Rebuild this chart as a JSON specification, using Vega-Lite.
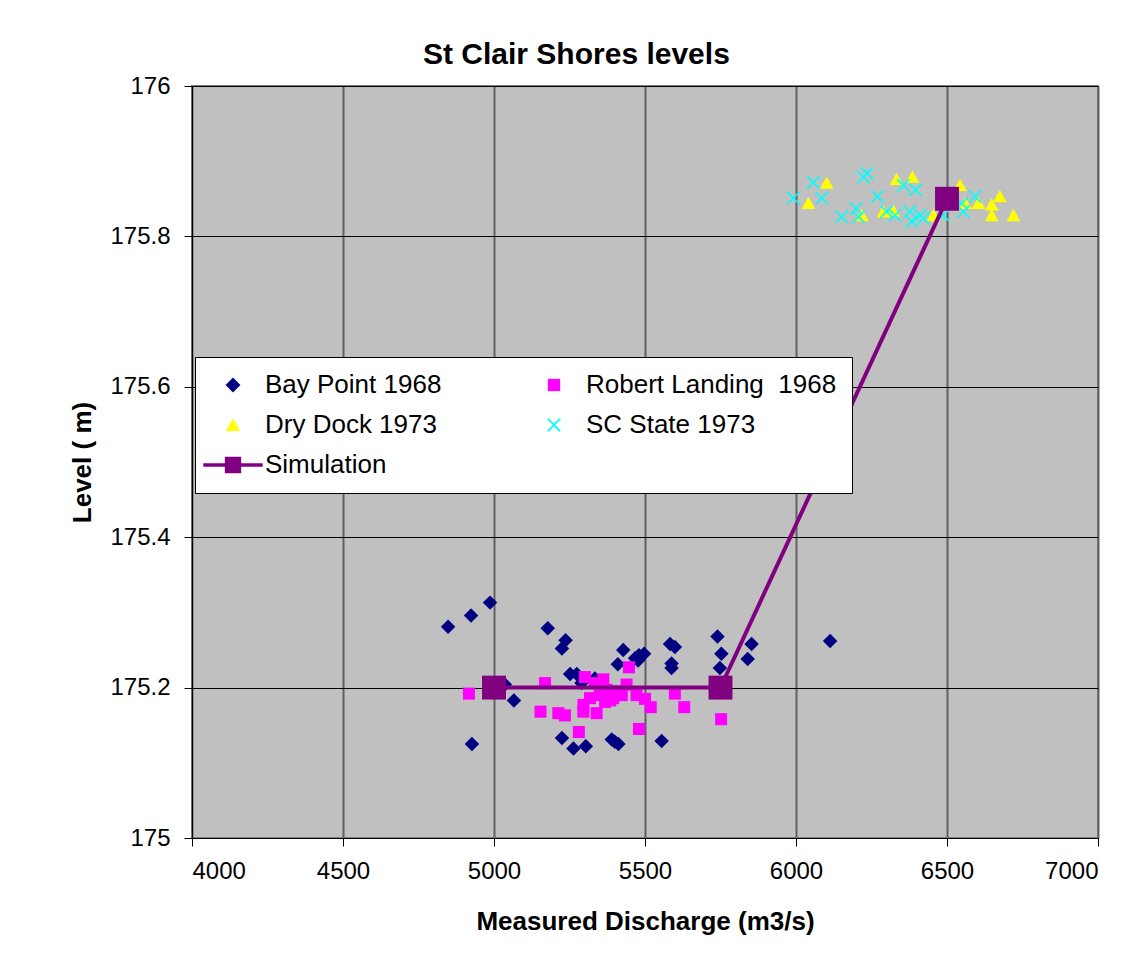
{
  "$schema": "https://vega.github.io/schema/vega-lite/v6.json",
  "width": 906,
  "height": 752,
  "autosize": {"type": "none"},
  "padding": {"left": 192, "top": 86, "right": 38, "bottom": 120},
  "background": "white",
  "title": {
    "text": "St Clair Shores levels",
    "anchor": "start",
    "dx": 354,
    "offset": 4,
    "font": "Liberation Sans",
    "fontSize": 30,
    "fontWeight": "bold",
    "color": "black"
  },
  "config": {
    "view": {"fill": "#C0C0C0", "stroke": "#808080", "strokeWidth": 2},
    "axis": {
      "labelFont": "Liberation Sans",
      "labelFontSize": 24,
      "labelColor": "black",
      "titleFont": "Liberation Sans",
      "titleFontSize": 26,
      "titleFontWeight": "bold",
      "titleColor": "black",
      "tickColor": "black",
      "tickSize": 8,
      "domainColor": "black"
    },
    "legend": {
      "labelFont": "Liberation Sans",
      "labelFontSize": 26,
      "labelColor": "black"
    }
  },
  "datasets": {
    "obs": [
      {"series": "Bay Point 1968", "discharge": 4848, "level": 175.281},
      {"series": "Bay Point 1968", "discharge": 4924, "level": 175.296},
      {"series": "Bay Point 1968", "discharge": 4987, "level": 175.313},
      {"series": "Bay Point 1968", "discharge": 5036, "level": 175.204},
      {"series": "Bay Point 1968", "discharge": 5066, "level": 175.183},
      {"series": "Bay Point 1968", "discharge": 4927, "level": 175.125},
      {"series": "Bay Point 1968", "discharge": 5178, "level": 175.279},
      {"series": "Bay Point 1968", "discharge": 5237, "level": 175.263},
      {"series": "Bay Point 1968", "discharge": 5225, "level": 175.252},
      {"series": "Bay Point 1968", "discharge": 5252, "level": 175.218},
      {"series": "Bay Point 1968", "discharge": 5274, "level": 175.218},
      {"series": "Bay Point 1968", "discharge": 5290, "level": 175.206},
      {"series": "Bay Point 1968", "discharge": 5334, "level": 175.212},
      {"series": "Bay Point 1968", "discharge": 5225, "level": 175.133},
      {"series": "Bay Point 1968", "discharge": 5263, "level": 175.119},
      {"series": "Bay Point 1968", "discharge": 5304, "level": 175.122},
      {"series": "Bay Point 1968", "discharge": 5390, "level": 175.131},
      {"series": "Bay Point 1968", "discharge": 5400, "level": 175.128},
      {"series": "Bay Point 1968", "discharge": 5412, "level": 175.125},
      {"series": "Bay Point 1968", "discharge": 5428, "level": 175.250},
      {"series": "Bay Point 1968", "discharge": 5410, "level": 175.231},
      {"series": "Bay Point 1968", "discharge": 5467, "level": 175.239},
      {"series": "Bay Point 1968", "discharge": 5480, "level": 175.243},
      {"series": "Bay Point 1968", "discharge": 5497, "level": 175.245},
      {"series": "Bay Point 1968", "discharge": 5477, "level": 175.236},
      {"series": "Bay Point 1968", "discharge": 5583, "level": 175.258},
      {"series": "Bay Point 1968", "discharge": 5599, "level": 175.254},
      {"series": "Bay Point 1968", "discharge": 5588, "level": 175.232},
      {"series": "Bay Point 1968", "discharge": 5588, "level": 175.226},
      {"series": "Bay Point 1968", "discharge": 5555, "level": 175.129},
      {"series": "Bay Point 1968", "discharge": 5740, "level": 175.268},
      {"series": "Bay Point 1968", "discharge": 5753, "level": 175.245},
      {"series": "Bay Point 1968", "discharge": 5748, "level": 175.226},
      {"series": "Bay Point 1968", "discharge": 5853, "level": 175.258},
      {"series": "Bay Point 1968", "discharge": 5840, "level": 175.238},
      {"series": "Bay Point 1968", "discharge": 6113, "level": 175.262},
      {"series": "Robert Landing\u00a0 1968", "discharge": 4917, "level": 175.192},
      {"series": "Robert Landing\u00a0 1968", "discharge": 5169, "level": 175.206},
      {"series": "Robert Landing\u00a0 1968", "discharge": 5154, "level": 175.168},
      {"series": "Robert Landing\u00a0 1968", "discharge": 5213, "level": 175.166},
      {"series": "Robert Landing\u00a0 1968", "discharge": 5235, "level": 175.163},
      {"series": "Robert Landing\u00a0 1968", "discharge": 5281, "level": 175.141},
      {"series": "Robert Landing\u00a0 1968", "discharge": 5301, "level": 175.214},
      {"series": "Robert Landing\u00a0 1968", "discharge": 5362, "level": 175.211},
      {"series": "Robert Landing\u00a0 1968", "discharge": 5334, "level": 175.206},
      {"series": "Robert Landing\u00a0 1968", "discharge": 5373, "level": 175.197},
      {"series": "Robert Landing\u00a0 1968", "discharge": 5318, "level": 175.186},
      {"series": "Robert Landing\u00a0 1968", "discharge": 5296, "level": 175.177},
      {"series": "Robert Landing\u00a0 1968", "discharge": 5296, "level": 175.168},
      {"series": "Robert Landing\u00a0 1968", "discharge": 5340, "level": 175.166},
      {"series": "Robert Landing\u00a0 1968", "discharge": 5368, "level": 175.181},
      {"series": "Robert Landing\u00a0 1968", "discharge": 5350, "level": 175.190},
      {"series": "Robert Landing\u00a0 1968", "discharge": 5385, "level": 175.183},
      {"series": "Robert Landing\u00a0 1968", "discharge": 5395, "level": 175.186},
      {"series": "Robert Landing\u00a0 1968", "discharge": 5410, "level": 175.195},
      {"series": "Robert Landing\u00a0 1968", "discharge": 5423, "level": 175.190},
      {"series": "Robert Landing\u00a0 1968", "discharge": 5439, "level": 175.204},
      {"series": "Robert Landing\u00a0 1968", "discharge": 5447, "level": 175.227},
      {"series": "Robert Landing\u00a0 1968", "discharge": 5472, "level": 175.190},
      {"series": "Robert Landing\u00a0 1968", "discharge": 5500, "level": 175.185},
      {"series": "Robert Landing\u00a0 1968", "discharge": 5519, "level": 175.174},
      {"series": "Robert Landing\u00a0 1968", "discharge": 5480, "level": 175.145},
      {"series": "Robert Landing\u00a0 1968", "discharge": 5599, "level": 175.192},
      {"series": "Robert Landing\u00a0 1968", "discharge": 5630, "level": 175.174},
      {"series": "Robert Landing\u00a0 1968", "discharge": 5752, "level": 175.158},
      {"series": "Dry Dock 1973", "discharge": 6102, "level": 175.871},
      {"series": "Dry Dock 1973", "discharge": 6041, "level": 175.844},
      {"series": "Dry Dock 1973", "discharge": 6333, "level": 175.876},
      {"series": "Dry Dock 1973", "discharge": 6385, "level": 175.879},
      {"series": "Dry Dock 1973", "discharge": 6218, "level": 175.828},
      {"series": "Dry Dock 1973", "discharge": 6289, "level": 175.833},
      {"series": "Dry Dock 1973", "discharge": 6322, "level": 175.834},
      {"series": "Dry Dock 1973", "discharge": 6455, "level": 175.828},
      {"series": "Dry Dock 1973", "discharge": 6543, "level": 175.868},
      {"series": "Dry Dock 1973", "discharge": 6560, "level": 175.844},
      {"series": "Dry Dock 1973", "discharge": 6604, "level": 175.844},
      {"series": "Dry Dock 1973", "discharge": 6648, "level": 175.842},
      {"series": "Dry Dock 1973", "discharge": 6675, "level": 175.853},
      {"series": "Dry Dock 1973", "discharge": 6648, "level": 175.828},
      {"series": "Dry Dock 1973", "discharge": 6720, "level": 175.828},
      {"series": "SC State 1973", "discharge": 5991, "level": 175.851},
      {"series": "SC State 1973", "discharge": 6057, "level": 175.872},
      {"series": "SC State 1973", "discharge": 6085, "level": 175.851},
      {"series": "SC State 1973", "discharge": 6236, "level": 175.884},
      {"series": "SC State 1973", "discharge": 6223, "level": 175.879},
      {"series": "SC State 1973", "discharge": 6151, "level": 175.826},
      {"series": "SC State 1973", "discharge": 6199, "level": 175.837},
      {"series": "SC State 1973", "discharge": 6207, "level": 175.826},
      {"series": "SC State 1973", "discharge": 6270, "level": 175.853},
      {"series": "SC State 1973", "discharge": 6300, "level": 175.833},
      {"series": "SC State 1973", "discharge": 6328, "level": 175.828},
      {"series": "SC State 1973", "discharge": 6355, "level": 175.868},
      {"series": "SC State 1973", "discharge": 6396, "level": 175.862},
      {"series": "SC State 1973", "discharge": 6377, "level": 175.833},
      {"series": "SC State 1973", "discharge": 6383, "level": 175.820},
      {"series": "SC State 1973", "discharge": 6411, "level": 175.828},
      {"series": "SC State 1973", "discharge": 6422, "level": 175.824},
      {"series": "SC State 1973", "discharge": 6488, "level": 175.828},
      {"series": "SC State 1973", "discharge": 6549, "level": 175.844},
      {"series": "SC State 1973", "discharge": 6554, "level": 175.833},
      {"series": "SC State 1973", "discharge": 6593, "level": 175.853}
    ],
    "sim": [
      {"series": "Simulation", "discharge": 5000, "level": 175.2},
      {"series": "Simulation", "discharge": 5750, "level": 175.2},
      {"series": "Simulation", "discharge": 6500, "level": 175.85}
    ]
  },
  "encoding": {
    "x": {
      "field": "discharge",
      "type": "quantitative",
      "scale": {"domain": [4000, 7000], "nice": false, "zero": false},
      "axis": {
        "title": "Measured Discharge (m3/s)",
        "values": [4000, 4500, 5000, 5500, 6000, 6500, 7000],
        "format": "d",
        "labelPadding": 13,
        "gridColor": "#606060",
        "gridWidth": 2,
        "gridOpacity": 1,
        "titleX": 453,
        "titleY": 91,
        "titleAlign": "center",
        "titleBaseline": "alphabetic"
      }
    },
    "y": {
      "field": "level",
      "type": "quantitative",
      "scale": {"domain": [175, 176], "nice": false, "zero": false},
      "axis": {
        "title": "Level ( m)",
        "values": [175, 175.2, 175.4, 175.6, 175.8, 176],
        "format": "~g",
        "labelPadding": 14,
        "gridColor": "black",
        "gridWidth": 1,
        "gridOpacity": 1,
        "titleX": -110,
        "titleY": 376,
        "titleAngle": -90,
        "titleAlign": "center",
        "titleBaseline": "middle"
      }
    }
  },
  "layer": [
    {
      "data": {"name": "obs"},
      "mark": {"type": "point", "filled": true, "opacity": 1, "size": 210, "strokeWidth": 0},
      "encoding": {
        "color": {
          "field": "series",
          "type": "nominal",
          "scale": {
            "domain": ["Bay Point 1968", "Robert Landing\u00a0 1968", "Dry Dock 1973", "SC State 1973", "Simulation"],
            "range": ["#000080", "#FF00FF", "#FFFF00", "#00FFFF", "#800080"]
          },
          "legend": {
            "title": null,
            "orient": "none",
            "legendX": 3,
            "legendY": 271,
            "columns": 2,
            "direction": "horizontal",
            "fillColor": "white",
            "strokeColor": "black",
            "padding": 15,
            "symbolSize": 220,
            "symbolOffset": 10,
            "labelOffset": 19,
            "columnPadding": 89,
            "rowPadding": 14,
            "symbolStrokeWidth": 0,
            "labelLimit": 300
          }
        },
        "shape": {
          "field": "series",
          "type": "nominal",
          "scale": {
            "domain": ["Bay Point 1968", "Robert Landing\u00a0 1968", "Dry Dock 1973", "SC State 1973", "Simulation"],
            "range": [
              "M0,-1L1,0L0,1L-1,0Z",
              "M-0.83,-0.83H0.83V0.83H-0.83Z",
              "M0,-0.9L0.95,0.8L-0.95,0.8Z",
              "M-0.93,-0.77L-0.77,-0.93L0,-0.16L0.77,-0.93L0.93,-0.77L0.16,0L0.93,0.77L0.77,0.93L0,0.16L-0.77,0.93L-0.93,0.77L-0.16,0Z",
              "M-4.0,-0.24H-1.1V-1.1H1.1V-0.24H4.0V0.24H1.1V1.1H-1.1V0.24H-4.0Z"
            ]
          }
        }
      }
    },
    {
      "data": {"name": "sim"},
      "mark": {"type": "line", "color": "#800080", "strokeWidth": 4},
      "encoding": {}
    },
    {
      "data": {"name": "sim"},
      "mark": {"type": "point", "filled": true, "opacity": 1, "size": 210, "strokeWidth": 0, "shape": "M-1.65,-1.65H1.65V1.65H-1.65Z"},
      "encoding": {
        "color": {"field": "series", "type": "nominal"}
      }
    }
  ]
}
